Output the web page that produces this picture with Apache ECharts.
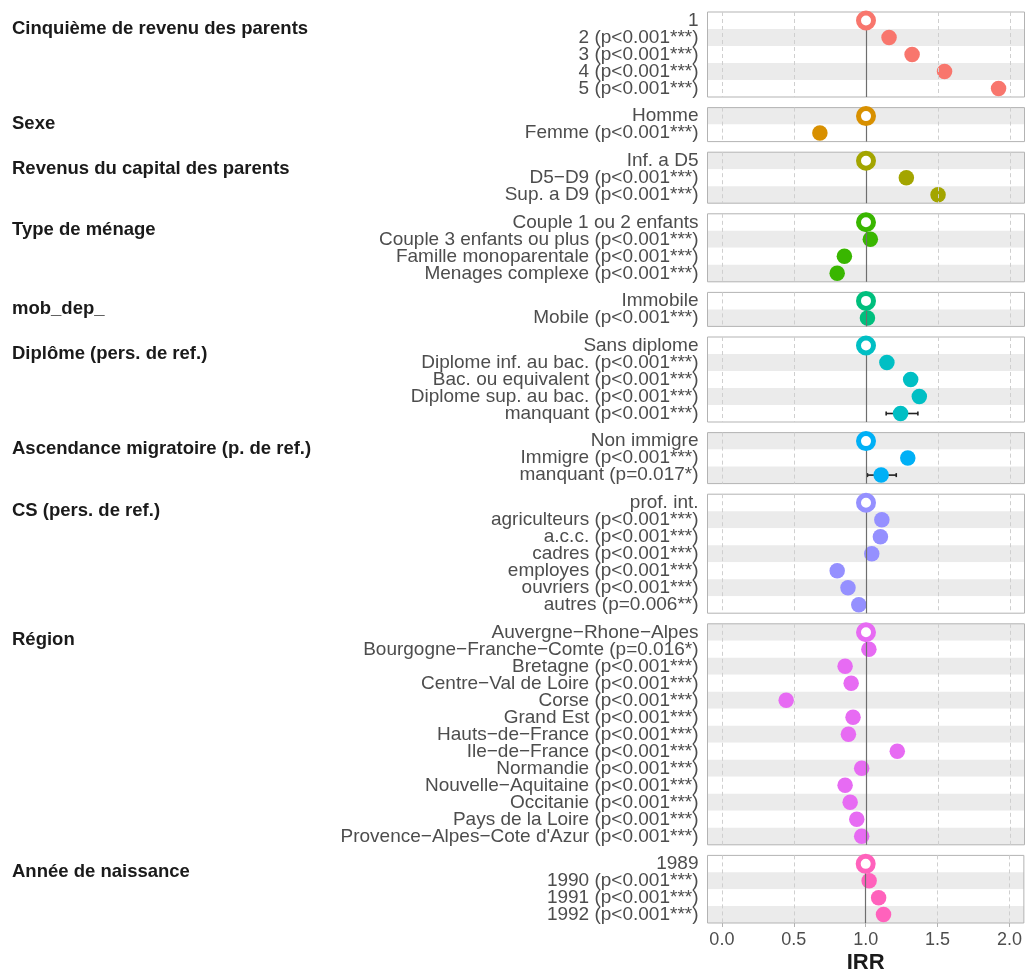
<!DOCTYPE html>
<html><head><meta charset="utf-8">
<script src="https://cdn.jsdelivr.net/npm/echarts@6/dist/echarts.min.js"></script>
<style>html,body{margin:0;padding:0;background:#fff}#c{width:1025px;height:975px}</style>
</head><body><div id="c"></div>
<script>
// ---- data ----
const groupTitles = ['Cinquième de revenu des parents','Sexe','Revenus du capital des parents','Type de ménage','mob_dep_','Diplôme (pers. de ref.)','Ascendance migratoire (p. de ref.)','CS (pers. de ref.)','Région','Année de naissance'];
const revenuLabels = ['1','2 (p<0.001***)','3 (p<0.001***)','4 (p<0.001***)','5 (p<0.001***)'];
const revenuIRR = [1, 1.16, 1.32, 1.545, 1.92];
const sexeLabels = ['Homme','Femme (p<0.001***)'];
const sexeIRR = [1, 0.68];
const capitalLabels = ['Inf. a D5','D5−D9 (p<0.001***)','Sup. a D9 (p<0.001***)'];
const capitalIRR = [1, 1.28, 1.50];
const menageLabels = ['Couple 1 ou 2 enfants','Couple 3 enfants ou plus (p<0.001***)','Famille monoparentale (p<0.001***)','Menages complexe (p<0.001***)'];
const menageIRR = [1, 1.03, 0.85, 0.80];
const mobLabels = ['Immobile','Mobile (p<0.001***)'];
const mobIRR = [1, 1.01];
const diplomeLabels = ['Sans diplome','Diplome inf. au bac. (p<0.001***)','Bac. ou equivalent (p<0.001***)','Diplome sup. au bac. (p<0.001***)','manquant (p<0.001***)'];
const diplomeIRR = [1, 1.145, 1.31, 1.37, 1.24];
const diplomeLow = [null, null, null, null, 1.14];
const diplomeHigh = [null, null, null, null, 1.36];
const ascendanceLabels = ['Non immigre','Immigre (p<0.001***)','manquant (p=0.017*)'];
const ascendanceIRR = [1, 1.29, 1.105];
const ascendanceLow = [null, null, 1.01];
const ascendanceHigh = [null, null, 1.21];
const csLabels = ['prof. int.','agriculteurs (p<0.001***)','a.c.c. (p<0.001***)','cadres (p<0.001***)','employes (p<0.001***)','ouvriers (p<0.001***)','autres (p=0.006**)'];
const csIRR = [1, 1.11, 1.10, 1.04, 0.80, 0.875, 0.95];
const regionLabels = ['Auvergne−Rhone−Alpes','Bourgogne−Franche−Comte (p=0.016*)','Bretagne (p<0.001***)','Centre−Val de Loire (p<0.001***)','Corse (p<0.001***)','Grand Est (p<0.001***)','Hauts−de−France (p<0.001***)','Ile−de−France (p<0.001***)','Normandie (p<0.001***)','Nouvelle−Aquitaine (p<0.001***)','Occitanie (p<0.001***)','Pays de la Loire (p<0.001***)',"Provence−Alpes−Cote d'Azur (p<0.001***)"];
const regionIRR = [1, 1.02, 0.855, 0.897, 0.446, 0.91, 0.878, 1.217, 0.97, 0.855, 0.89, 0.936, 0.97];
const anneeLabels = ['1989','1990 (p<0.001***)','1991 (p<0.001***)','1992 (p<0.001***)'];
const anneeIRR = [1, 1.024, 1.09, 1.124];
const xTicks = [0, 0.5, 1, 1.5, 2];
const refValue = 1;

// ---- style ----
const colors = ['#F8766D','#D89000','#A3A500','#39B600','#00BF7D','#00BFC4','#00B0F6','#9590FF','#E76BF3','#FF62BC'];
const FONT = 'Liberation Sans, Arial, sans-serif';
const panels = [
  {labels: revenuLabels, irr: revenuIRR},
  {labels: sexeLabels, irr: sexeIRR},
  {labels: capitalLabels, irr: capitalIRR},
  {labels: menageLabels, irr: menageIRR},
  {labels: mobLabels, irr: mobIRR},
  {labels: diplomeLabels, irr: diplomeIRR, lo: diplomeLow, hi: diplomeHigh},
  {labels: ascendanceLabels, irr: ascendanceIRR, lo: ascendanceLow, hi: ascendanceHigh},
  {labels: csLabels, irr: csIRR},
  {labels: regionLabels, irr: regionIRR},
  {labels: anneeLabels, irr: anneeIRR}
];
const ROW = 17, GAP = 10.6, TOP0 = 12, LEFT = 707.5, WIDTH = 317;
const GRAY = '#ebebeb';

const grid = [], xAxis = [], yAxis = [], series = [], title = [];
let rowsBefore = 0;
panels.forEach((p, k) => {
  const n = p.labels.length;
  const top = TOP0 + ROW * rowsBefore + GAP * k;
  const last = k === panels.length - 1;
  grid.push({left: LEFT, width: WIDTH, top: top, height: ROW * n, show: true, z: 1,
    backgroundColor: 'transparent', borderColor: '#b3b3b3', borderWidth: 1});
  title.push({text: groupTitles[k], left: 12, top: top + 7, padding: 0,
    textStyle: {fontFamily: FONT, fontWeight: 'bold', fontSize: 18.5, color: '#1a1a1a'}});
  xAxis.push({type: 'value', gridIndex: k, min: -0.1, max: 2.1,
    axisLine: {show: false}, splitLine: {show: false},
    axisTick: last ? {show: true, customValues: xTicks, length: 4, lineStyle: {color: '#b3b3b3', width: 1}} : {show: false},
    axisLabel: last ? {show: true, customValues: xTicks, formatter: v => v.toFixed(1),
      fontFamily: FONT, fontSize: 18, color: '#4d4d4d', margin: 8} : {show: false},
    name: last ? 'IRR' : '', nameLocation: 'middle', nameGap: 29,
    nameTextStyle: {fontFamily: FONT, fontSize: 22, fontWeight: 'bold', color: '#1a1a1a'}});
  const startOdd = (rowsBefore % 2 === 0);
  yAxis.push({type: 'category', gridIndex: k, data: p.labels, inverse: true,
    axisLine: {show: false}, axisTick: {show: false}, splitLine: {show: false},
    splitArea: {show: true, areaStyle: {color: startOdd ? ['#ffffff', GRAY] : [GRAY, '#ffffff']}},
    axisLabel: {interval: 0, fontFamily: FONT, fontSize: 19, color: '#4d4d4d', margin: 9}});
  // grid lines + reference line
  series.push({type: 'scatter', xAxisIndex: k, yAxisIndex: k, data: [], z: 2, silent: true,
    markLine: {silent: true, symbol: 'none', label: {show: false}, animation: false,
      data: xTicks.map(v => ({xAxis: v, lineStyle: {color: '#cfcfcf', type: [4, 3], width: 1}}))
        .concat([{xAxis: refValue, lineStyle: {color: '#6e6e6e', type: 'solid', width: 1.2}}])}});
  // error bars
  if (p.lo) {
    const eb = [];
    p.lo.forEach((lo, i) => { if (lo != null) eb.push([lo, p.hi[i], i]); });
    series.push({type: 'custom', xAxisIndex: k, yAxisIndex: k, z: 3, silent: true, data: eb,
      encode: {x: [0, 1], y: 2},
      renderItem: (params, api) => {
        const a = api.coord([api.value(0), api.value(2)]);
        const b = api.coord([api.value(1), api.value(2)]);
        const st = {stroke: '#222', lineWidth: 1.6};
        return {type: 'group', children: [
          {type: 'line', shape: {x1: a[0], y1: a[1], x2: b[0], y2: b[1]}, style: st},
          {type: 'line', shape: {x1: a[0], y1: a[1] - 2, x2: a[0], y2: a[1] + 2}, style: st},
          {type: 'line', shape: {x1: b[0], y1: b[1] - 2, x2: b[0], y2: b[1] + 2}, style: st}
        ]};
      }});
  }
  // points
  series.push({type: 'scatter', xAxisIndex: k, yAxisIndex: k, z: 4, symbolSize: 15.5, silent: true,
    itemStyle: {color: colors[k], opacity: 1},
    data: p.irr.map((v, i) => [v, i]).filter((d, i) => i > 0)});
  series.push({type: 'scatter', xAxisIndex: k, yAxisIndex: k, z: 5, symbolSize: 15, silent: true,
    itemStyle: {color: '#ffffff', borderColor: colors[k], borderWidth: 5, opacity: 1},
    data: [[p.irr[0], 0]]});
  rowsBefore += n;
});

const chart = echarts.init(document.getElementById('c'), null, {renderer: 'canvas'});
chart.setOption({animation: false, backgroundColor: '#ffffff', title, grid, xAxis, yAxis, series});
</script>
</body></html>
